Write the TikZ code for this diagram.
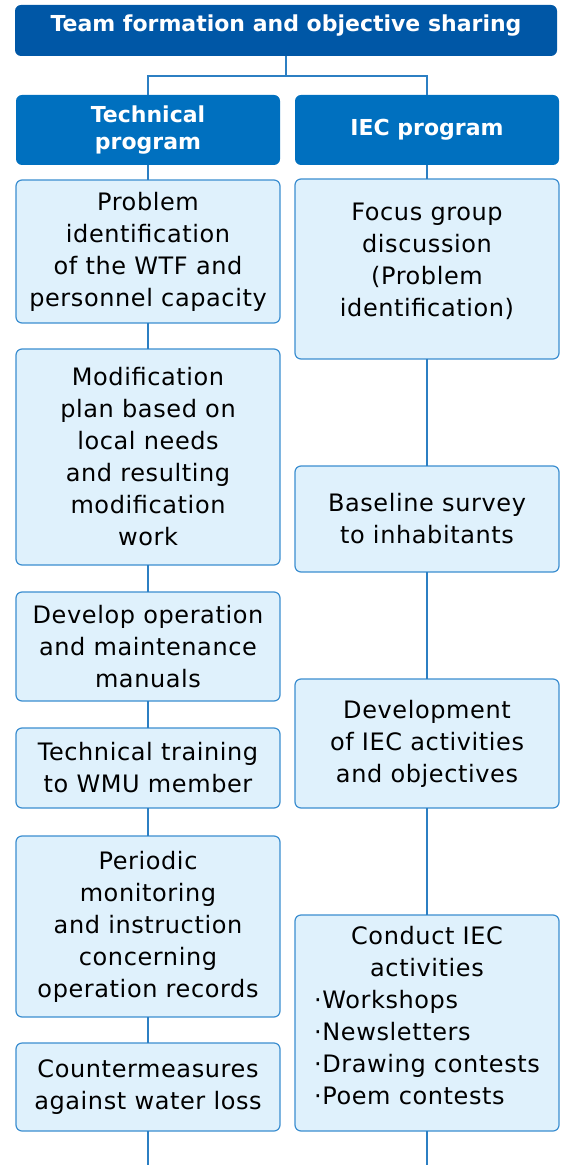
\documentclass[tikz,border=0pt]{standalone}
\usepackage{fontspec}
\setmainfont{DejaVu Sans}[LetterSpace=2.5]
\newfontfamily\headfont{DejaVu Sans}
\usepackage{xcolor}

\definecolor{navy}{HTML}{0057A6}
\definecolor{headblue}{HTML}{0070BF}
\definecolor{paleblue}{HTML}{DFF1FC}
\definecolor{edgeblue}{HTML}{3B8ED0}
\definecolor{wireblue}{HTML}{2C7FC3}

\begin{document}
\begin{tikzpicture}[x=0.5pt, y=-0.5pt,
  every node/.style={font=\fontsize{12pt}{16pt}\selectfont, inner sep=0pt, outer sep=0pt},
  head/.style={fill=headblue, rounded corners=3pt, text=white, align=center,
    font=\headfont\bfseries\fontsize{11pt}{13.5pt}\selectfont, minimum width=132pt},
  item/.style={draw=edgeblue, fill=paleblue, line width=0.6pt, rounded corners=3pt,
    align=center, minimum width=132pt},
  wire/.style={draw=wireblue, line width=0.7pt}]
  \useasboundingbox (0,0) rectangle (561,1165);

  \node[head, fill=navy, minimum width=271pt, minimum height=25.5pt] (team) at (286,30.5)
    {Team formation and objective sharing\rule[-7.6pt]{0pt}{0pt}};
  \node[head, minimum height=35pt] (tech) at (148,130) {Technical\\program};
  \node[head, minimum height=35pt] (iec)  at (427,130) {IEC program};

  % technical column
  \node[item, minimum height=71.5pt] (ident)  at (148,251.5) {Problem\\identification\\of the WTF and\\personnel capacity};
  \node[item, minimum height=108pt]  (modif)  at (148,457)   {Modification\\plan based on\\local needs\\and resulting\\modification\\work};
  \node[item, minimum height=54.5pt] (manual) at (148,646.5) {Develop operation\\and maintenance\\manuals};
  \node[item, minimum height=40pt]   (train)  at (148,768)   {Technical training\\to WMU member};
  \node[item, minimum height=90.5pt] (monit)  at (148,926.5) {Periodic\\monitoring\\and instruction\\concerning\\operation records};
  \node[item, minimum height=44pt]   (loss)   at (148,1087)  {Countermeasures\\against water loss};

  % IEC column
  \node[item, minimum height=90pt]   (focus)  at (427,269)   {Focus group\\discussion\\(Problem\\identification)\rule[-9.3pt]{0pt}{0pt}};
  \node[item, minimum height=53pt]   (survey) at (427,519)   {Baseline survey\\to inhabitants};
  \node[item, minimum height=64.5pt] (plan)   at (427,743.5) {Development\\of IEC activities\\and objectives};
  \node[item, minimum height=108pt]  (action) at (427,1023)  {Conduct IEC\\activities\\
    \begin{tabular}[t]{@{}l@{}}·Workshops\\·Newsletters\\·Drawing contests\\·Poem contests\rule[-7.3pt]{0pt}{0pt}\end{tabular}};

  \coordinate (fork) at (286,76);
  \coordinate (lend) at (148,1165);
  \coordinate (rend) at (427,1165);

  \draw[wire] (team.south) -- (fork) -| (tech.north);
  \draw[wire] (fork) -| (iec.north);
  \draw[wire] (tech) -- (ident) -- (modif) -- (manual) -- (train) -- (monit) -- (loss) -- (lend);
  \draw[wire] (iec) -- (focus) -- (survey) -- (plan) -- (action) -- (rend);
\end{tikzpicture}
\end{document}
